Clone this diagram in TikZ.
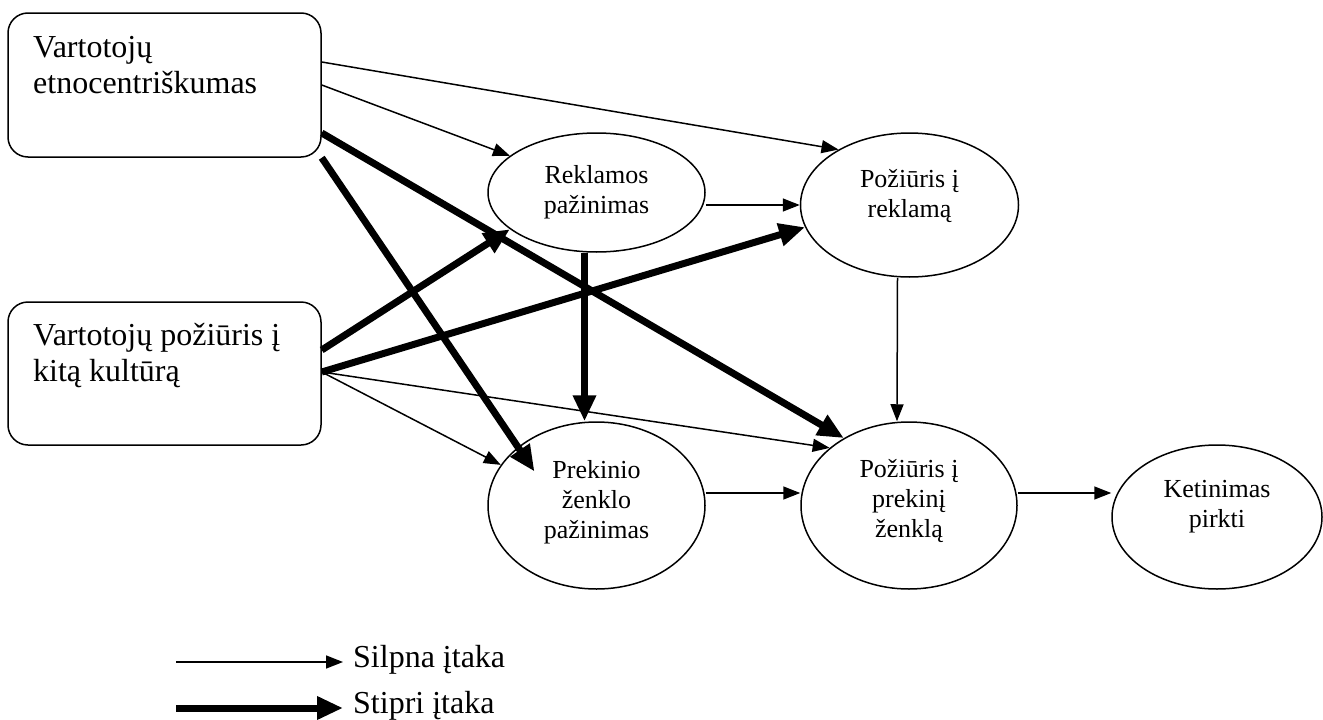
\documentclass[tikz,border=0pt]{standalone}
\usepackage{fontspec}
\setmainfont{Liberation Serif}
\usetikzlibrary{arrows.meta,shapes.geometric,calc}
\begin{document}
\begin{tikzpicture}[x=1pt,y=-1pt,
  boxn/.style={draw,line width=1.5pt,rounded corners=20pt,minimum width=313pt,minimum height=144pt,inner sep=0pt},
  btxt/.style={font=\fontsize{32}{36}\selectfont,align=left,inner sep=0pt,anchor=north west},
  elln/.style={draw,ellipse,line width=1.5pt,inner sep=0pt},
  etxt/.style={font=\fontsize{26}{30}\selectfont,align=center,inner sep=0pt},
  weak/.style={line width=1.5pt,-{Triangle[length=17pt,width=13pt]}},
  strong/.style={line width=7pt,-{Triangle[length=26pt,width=22pt]}},
  ltxt/.style={font=\fontsize{32}{36}\selectfont,inner sep=0pt,anchor=base west}]
\useasboundingbox (0,0) rectangle (1323,720);

% boxes
\node[boxn] (b1) at (164.5,85) {};
\node[btxt] (t1) at (33,36) {Vartotojų\\etnocentriškumas};
\node[boxn,minimum height=143pt] (b2) at (164.5,373.5) {};
\node[btxt] (t2) at (33,323) {Vartotojų požiūris į\\kitą kultūrą};

% ellipses
\node[elln,minimum width=217pt,minimum height=119pt] (rk) at (596.5,192.5) {};
\node[etxt] (rkt) at (rk.center) {Reklamos\\pažinimas};
\node[elln,minimum width=218pt,minimum height=144pt] (pr) at (909.5,205) {};
\node[etxt] (prt) at ([yshift=9pt]pr.center) {Požiūris į\\reklamą};
\node[elln,minimum width=217pt,minimum height=167pt] (pz) at (596.5,505.5) {};
\node[etxt] (pzt) at ([yshift=3.5pt]pz.center) {Prekinio\\ženklo\\pažinimas};
\node[elln,minimum width=216pt,minimum height=167pt] (pp) at (909,505.5) {};
\node[etxt] (ppt) at ([yshift=4pt]pp.center) {Požiūris į\\prekinį\\ženklą};
\node[elln,minimum width=210pt,minimum height=144pt] (kp) at (1217,517) {};
\node[etxt] (kpt) at ([yshift=10pt]kp.center) {Ketinimas\\pirkti};

% weak arrows
\draw[weak] ([yshift=23pt]b1.east) -- (pr.142);
\draw[weak] ([yshift=0pt]b1.east) -- (rk.157.5);
\draw[weak] (rk.east |- pr.west) -- (pr.west);
\draw[weak] ([xshift=-12pt]pr.south) -- ([xshift=-12pt]pp.north);
\draw[weak] ([yshift=1.5pt]b2.east) -- (pz.157.5);
\draw[weak] ([yshift=1.5pt]b2.east) -- (pp.144.6);
\draw[weak] ([yshift=12.5pt]pz.east) -- ([yshift=12.5pt]pp.west);
\draw[weak] ([yshift=12.5pt]pp.east) -- ([yshift=12.5pt]pp.east -| kp.west);

% strong arrows
\draw[strong] ([yshift=-48pt]b1.east) -- (pp.134.5);
\draw[strong] (b1.south east) -- ($(pz.center)+(-62,-34)$);
\draw[strong] ([xshift=-12pt]rk.south) -- ([xshift=-12pt]pz.north);
\draw[strong] ([yshift=23.5pt]b2.east) -- (rk.203);
\draw[strong] ([yshift=1.5pt]b2.east) -- (pr.192);

% legend
\coordinate (l1s) at (176,662);
\coordinate (l1e) at (343,662);
\coordinate (l2s) at (176,708);
\coordinate (l2e) at (343,708);
\draw[weak] (l1s) -- (l1e);
\draw[strong] (l2s) -- (l2e);
\node[ltxt] (lt1) at (353,667) {Silpna įtaka};
\node[ltxt] (lt2) at (353,713) {Stipri įtaka};
\end{tikzpicture}
\end{document}
